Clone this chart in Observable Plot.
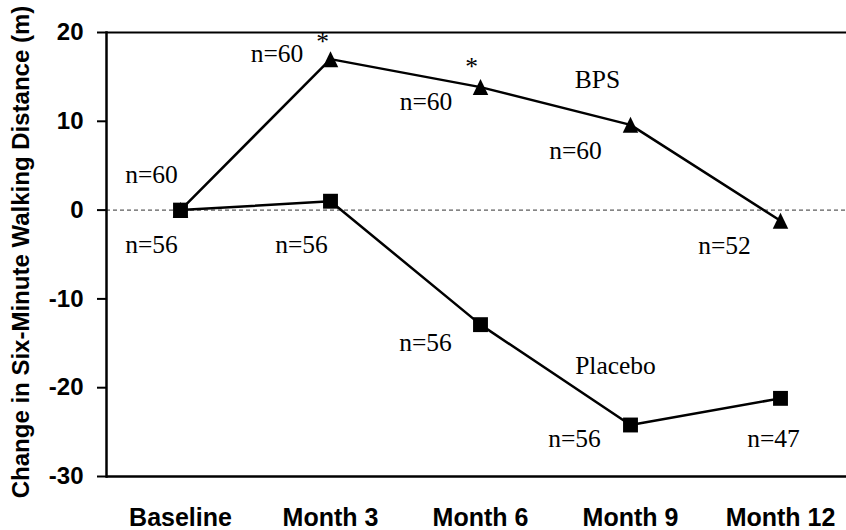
<!DOCTYPE html>
<html><head><meta charset="utf-8">
<script src="https://cdn.jsdelivr.net/npm/d3@7"></script>
<script src="https://cdn.jsdelivr.net/npm/@observablehq/plot@0.6"></script>
<style>body{margin:0;background:#fff}#chart svg{display:block}</style>
</head><body><div id="chart"></div>
<script>
// ---- data ----
const timepoints = ["Baseline", "Month 3", "Month 6", "Month 9", "Month 12"];
const bpsValues = [0, 17.0, 13.85, 9.6, -1.2];
const placeboValues = [0, 1.0, -12.9, -24.2, -21.2];
const yTicks = [-30, -20, -10, 0, 10, 20];
const yTitle = "Change in Six-Minute Walking Distance (m)";
// annotations (x in timepoint units, y in metres)
const annText = ["n=60", "n=56", "n=60", "*", "n=56", "n=60", "*", "BPS", "n=60", "n=52", "n=56", "Placebo", "n=56", "n=47"];
const annX = [-0.193, -0.193, 0.643, 0.947, 0.807, 1.637, 1.94, 2.78, 2.633, 3.627, 1.633, 2.9, 2.627, 3.953];
const annY = [4.0, -3.9, 17.6, 18.9, -3.9, 12.2, 16.1, 14.65, 6.7, -4.0, -14.9, -17.5, -25.8, -25.8];

const bps = timepoints.map((t, i) => ({i, v: bpsValues[i]}));
const placebo = timepoints.map((t, i) => ({i, v: placeboValues[i]}));
const ann = annText.map((t, k) => ({t, x: annX[k], y: annY[k]}));

// bbox-centred triangle
const tri = {draw(ctx, size) { const r = Math.sqrt(size / Math.PI); ctx.moveTo(0, -r); ctx.lineTo(r * 0.97, r); ctx.lineTo(-r * 0.97, r); ctx.closePath(); }};

const sans = "'Liberation Sans', Arial, Helvetica, sans-serif";
const serif = "'Liberation Serif', 'Times New Roman', serif";

const chart = Plot.plot({
  width: 846, height: 530,
  marginLeft: 106, marginRight: 0, marginTop: 32, marginBottom: 54,
  style: {background: "#fff", color: "#000"},
  x: {type: "linear", domain: [-74 / 150, 666 / 150]},
  y: {domain: [-30, 20]},
  marks: [
    Plot.ruleY([0], {stroke: "#333", strokeWidth: 1, strokeDasharray: "4,3"}),
    Plot.ruleY([20], {stroke: "#000", strokeWidth: 2}),
    Plot.ruleY([-30], {stroke: "#000", strokeWidth: 2.5}),
    Plot.frame({anchor: "left", stroke: "#000", strokeWidth: 2.5}),
    Plot.axisY({ticks: yTicks, tickFormat: d => String(d), tickSize: 9, tickPadding: 14, strokeWidth: 2, fontSize: 24, fontWeight: "bold", fontFamily: sans, label: null}),
    Plot.axisX({ticks: d3.range(timepoints.length), tickFormat: i => timepoints[i], tickSize: 0, tickPadding: 32, fontSize: 25, fontWeight: "bold", fontFamily: sans, label: null}),
    Plot.text([yTitle], {text: d => d, frameAnchor: "left", dx: -85.5, dy: -2.5, rotate: -90, textAnchor: "middle", lineAnchor: "middle", fontSize: 24, fontWeight: "bold", fontFamily: sans}),
    Plot.line(bps, {x: "i", y: "v", stroke: "#000", strokeWidth: 2.5}),
    Plot.line(placebo, {x: "i", y: "v", stroke: "#000", strokeWidth: 2.5}),
    Plot.dot(bps, {x: "i", y: "v", symbol: tri, r: 8, fill: "#000", stroke: "none"}),
    Plot.dot(placebo, {x: "i", y: "v", symbol: "square", r: 8.4, fill: "#000", stroke: "none"}),
    Plot.text(ann, {x: "x", y: "y", text: "t", fontSize: 25.5, fontFamily: serif, textAnchor: "middle", lineAnchor: "middle", fill: "#000"})
  ]
});
document.getElementById("chart").appendChild(chart);
</script>
</body></html>
